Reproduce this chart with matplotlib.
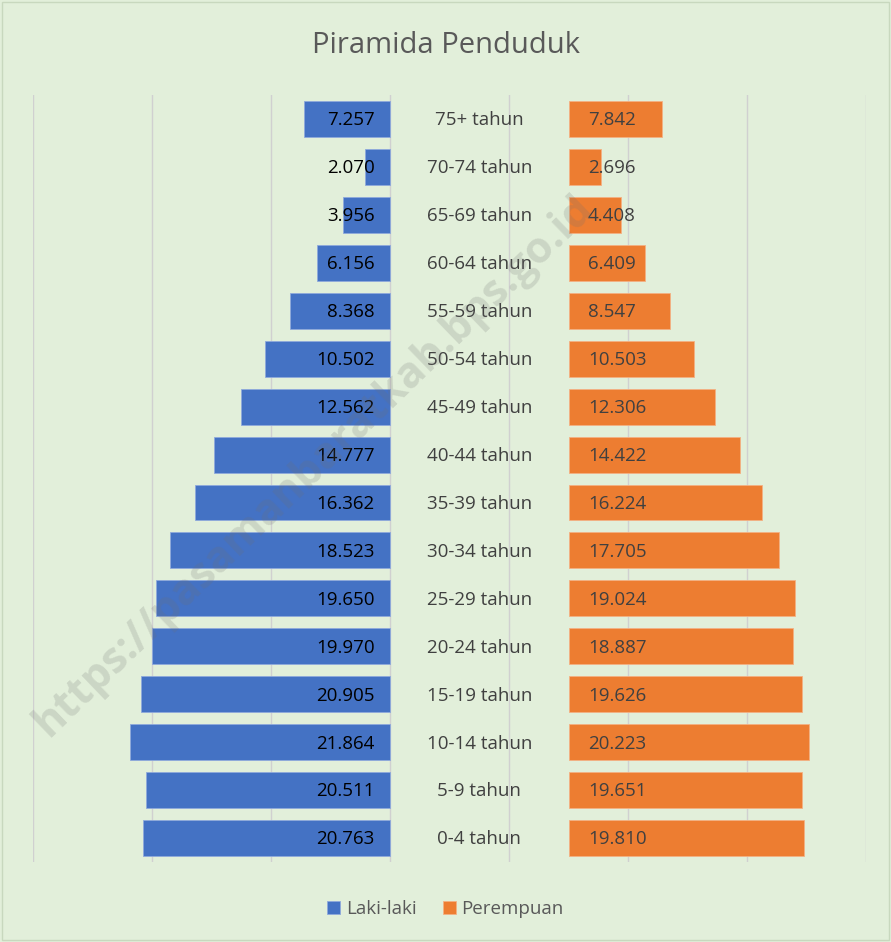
import numpy as np
import matplotlib.pyplot as plt

age_groups = ["0-4 tahun", "5-9 tahun", "10-14 tahun", "15-19 tahun", "20-24 tahun",
              "25-29 tahun", "30-34 tahun", "35-39 tahun", "40-44 tahun", "45-49 tahun",
              "50-54 tahun", "55-59 tahun", "60-64 tahun", "65-69 tahun", "70-74 tahun",
              "75+ tahun"]
male = [20763, 20511, 21864, 20905, 19970, 19650, 18523, 16362, 14777, 12562,
        10502, 8368, 6156, 3956, 2070, 7257]
female = [19810, 19651, 20223, 19626, 18887, 19024, 17705, 16224, 14422, 12306,
          10503, 8547, 6409, 4408, 2696, 7842]

GAP = 15000  # space in the middle for the age labels
BG = "#E2EFDA"
BLUE = "#4472C4"
ORANGE = "#ED7D31"

plt.rcParams['font.family'] = ['Open Sans', 'DejaVu Sans']


def fmt(v):
    return f"{v:,}".replace(",", ".")


fig = plt.figure(figsize=(8.91, 9.42), dpi=100, facecolor=BG)
ax = fig.add_axes([0.037, 0.085, 0.935, 0.814])
ax.set_facecolor(BG)

y = np.arange(len(age_groups))
ax.barh(y, [-m for m in male], height=0.75, color=BLUE, edgecolor="#8FAADC",
        linewidth=0.6, label="Laki-laki", zorder=3)
ax.barh(y, female, left=GAP, height=0.75, color=ORANGE, edgecolor="#F4B183",
        linewidth=0.6, label="Perempuan", zorder=3)

for i in y:
    ax.annotate(fmt(male[i]), (0, i), xytext=(-11, -1), textcoords="offset points",
                ha="right", va="center", fontsize=13.5, color="black", zorder=4)
    ax.annotate(fmt(female[i]), (GAP, i), xytext=(14, -1), textcoords="offset points",
                ha="left", va="center", fontsize=13.5, color="#404040", zorder=4)
    ax.annotate(age_groups[i], (GAP / 2, i), xytext=(0, -1), textcoords="offset points",
                ha="center", va="center", fontsize=13.5, color="#404040", zorder=4)

ax.set_xlim(-30000, 40000)
ax.set_ylim(-0.5, len(age_groups) - 0.5)
ax.set_xticks(np.arange(-30000, 40001, 10000))
ax.set_yticks([])
ax.tick_params(axis="x", length=0, labelbottom=False)
ax.grid(axis="x", color="#D0D0D0", linewidth=1, zorder=0)
for s in ax.spines.values():
    s.set_visible(False)

fig.text(0.5, 0.952, "Piramida Penduduk", ha="center", va="center",
         fontsize=21, color="#595959")

leg = fig.legend(loc="center", bbox_to_anchor=(0.5, 0.035), ncol=2, frameon=False,
                 fontsize=13.5, handlelength=0.7, handleheight=0.7, handletextpad=0.3,
                 columnspacing=1.4)
for t in leg.get_texts():
    t.set_color("#595959")

# watermark
fig.text(0.352, 0.506, "https://pasamanbaratkab.bps.go.id", ha="center", va="center",
         rotation=44, fontsize=31, fontweight="bold", color="#707070", alpha=0.2,
         zorder=10)

fig.patches.append(plt.Rectangle((0.002, 0.002), 0.996, 0.996, transform=fig.transFigure,
                                 fill=False, edgecolor="#C8D8BE", linewidth=1))

fig.savefig("out.png", dpi=100, facecolor=BG)
